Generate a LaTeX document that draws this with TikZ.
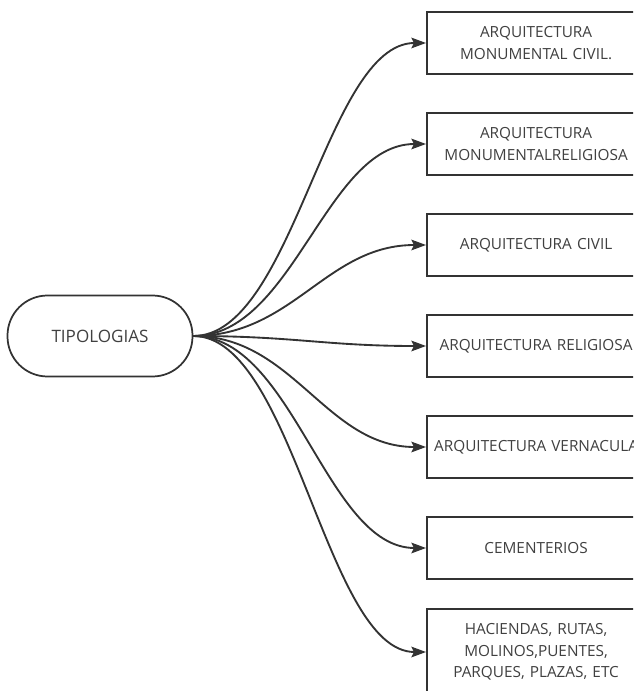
\documentclass[tikz,border=0pt]{standalone}
\usepackage{fontspec}
\setmainfont{Open Sans}
\usetikzlibrary{arrows.meta,positioning}
\definecolor{tpline}{RGB}{51,51,51}
\definecolor{tptext}{RGB}{64,64,64}

\begin{document}
\begin{tikzpicture}[x=0.75pt,y=-0.75pt,
  tipo/.style={draw=tpline,line width=1.3pt,rounded corners=30pt,minimum width=138.75pt,minimum height=60.75pt,font=\fontsize{12.8}{15}\selectfont,text=tptext},
  box/.style={draw=tpline,line width=1.6pt,fill=white,anchor=west,text width=156pt,inner sep=3.75pt,align=center,minimum height=46.5pt,font=\fontsize{11.5}{16}\selectfont,text=tptext},
  link/.style={-{Stealth[length=11pt,width=8pt,inset=2pt]},tpline,line width=1.4pt}]
  \useasboundingbox (0,0) rectangle (633,691);
  \clip (0,0) rectangle (633,691);
  % Root
  \node[tipo] (tip) at (100,336) {TIPOLOGIAS};
  % Tipologias
  \node[box] (t1) at (426,43) {ARQUITECTURA\\MONUMENTAL CIVIL.};
  \node[box] (t2) at (426,144) {ARQUITECTURA\\MONUMENTALRELIGIOSA};
  \node[box] (t3) at (426,245) {ARQUITECTURA CIVIL};
  \node[box] (t4) at (426,346) {ARQUITECTURA RELIGIOSA};
  \node[box] (t5) at (426,447) {ARQUITECTURA VERNACULA};
  \node[box] (t6) at (426,548) {CEMENTERIOS};
  \node[box,minimum height=64.5pt] (t7) at (426,652) {HACIENDAS, RUTAS,\\MOLINOS,PUENTES,\\PARQUES, PLAZAS, ETC};
  % Links
  \foreach \i in {1,...,7}
    \draw[link] (tip.east) .. controls +(75pt,0) and +(-75pt,0) .. (t\i.west);
\end{tikzpicture}
\end{document}
